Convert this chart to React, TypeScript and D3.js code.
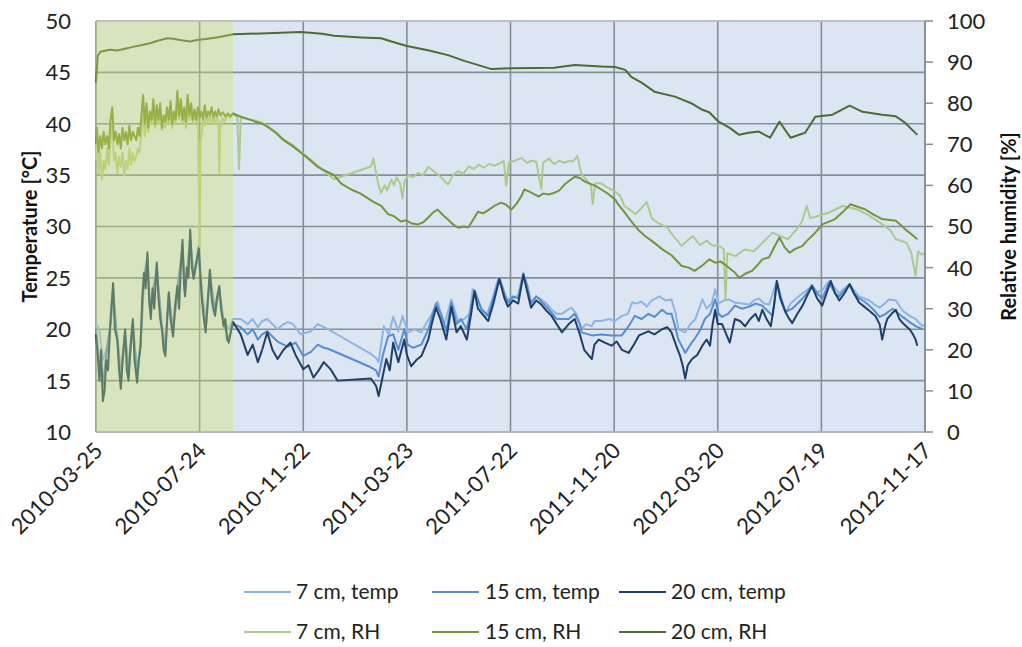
import React from "react";
import * as d3 from "d3";

// ---------- data (day offset from 2010-03-25, value) ----------
const START = Date.UTC(2010, 2, 25);
const TICK_STEP_DAYS = 121;
const TICK_COUNT = 9;
const SHADE_END_DAY = 160;

const tempTicks = [10, 15, 20, 25, 30, 35, 40, 45, 50];
const rhTicks = [0, 10, 20, 30, 40, 50, 60, 70, 80, 90, 100];

const temp20: [number, number][] = [
  [0,19.5],[2,17.5],[4,15],[6,18],[8,13],[10,14],[12,17],[14,16],[17,21],[20,24.5],[22,20],[25,19],[27,16],[29,14.2],[31,17],[34,20],[36,16],[38,15],[40,18],[43,21],[45,17],[48,14.8],[50,17],[52,18.3],[54,23],[56,25.5],[58,24],[60,27.5],[62,23],[64,21],[66,24],[68,22],[71,26.5],[73,23],[75,21],[77,20],[79,18],[81,17.4],[83,21],[85,23.6],[87,21],[90,19.3],[92,22],[95,24.2],[97,22],[99,26],[101,28.7],[103,24],[104,23.2],[106,26],[108,25],[110,29.7],[112,26],[114,24.9],[116,26],[118,27],[120,28],[122,25],[124,22.6],[126,21],[128,19.7],[130,22],[133,25.8],[135,23],[137,22],[139,21.3],[141,23],[144,24.2],[146,22],[149,20.3],[151,21],[153,19],[155,18.7],[158,20],[160,20.7],
  [169,19.5],[177,17.5],[183,18.5],[189,16.8],[194,18],[200,19.7],[206,18],[212,17.1],[219,18],[227,18.7],[233,17.5],[242,16.1],[248,16.5],[254,15.3],[260,16],[266,16.8],[274,16.1],[282,15],[321,15.2],[327,14.5],[330,13.5],[335,15.5],[339,17.1],[343,16],[347,18.7],[353,16.8],[360,19],[363,17.5],[368,16.4],[374,17],[380,17.4],[388,19],[392,20.5],[397,22.1],[402,21],[409,19],[415,22.2],[421,19.7],[426,20.3],[433,19],[438,21.5],[442,23.7],[446,22],[450,21.6],[458,20.8],[464,22.5],[471,24.9],[477,23],[481,22.2],[487,22.8],[493,22.5],[499,25.3],[504,23.5],[508,22.1],[514,22.8],[520,22.4],[526,21.8],[532,21.3],[538,20.5],[544,19.7],[552,20.5],[559,21],[565,19.5],[570,18],[579,17.1],[582,18.5],[587,19],[594,18.7],[602,18.4],[608,18.8],[614,18],[622,17.7],[628,18.5],[634,19.4],[645,19.8],[652,19.5],[661,20],[667,20.2],[672,19.7],[677,18.5],[682,17.4],[685,16.5],[688,15.2],[691,16.5],[696,17.1],[702,17.5],[708,18.4],[713,19],[717,18.4],[720,20.5],[723,21.9],[726,20.5],[731,20.5],[736,19.5],[740,18.7],[746,21],[752,20.8],[758,20.3],[764,21],[770,21.5],[774,20.8],[778,21.9],[783,21],[788,20.3],[792,22.5],[795,24.7],[799,23],[804,21.9],[808,21.2],[813,20.6],[819,21.5],[825,22.3],[830,23.2],[836,24.2],[842,23],[848,22.3],[853,23.5],[858,24.7],[863,23.5],[868,22.8],[874,23.5],[880,24.4],[885,23.5],[891,22.6],[897,22.2],[903,21.8],[910,21.3],[915,20.5],[918,19],[922,20.5],[924,21],[929,21.5],[934,21.9],[938,21],[942,20.6],[946,20.3],[950,20],[954,19.5],[957,19],[959,18.4]
];

const temp15: [number, number][] = [
  [0,20],[4,16.5],[8,14.5],[12,17.5],[17,20.5],[20,24],[24,19.5],[29,15],[34,19.5],[38,15.5],[43,20.5],[48,15.5],[52,18.5],[56,25],[60,27],[63,22],[71,26],[77,20],[81,18],[85,23.5],[90,19.5],[95,24],[101,28],[104,23.5],[110,29],[114,25],[120,27.5],[124,23],[128,20],[133,25.5],[139,21.5],[144,24],[149,20.5],[155,19],[160,20.5],
  [169,20.2],[177,19.5],[183,20],[189,19],[194,19.5],[200,19.8],[206,19.3],[212,18.8],[219,18.5],[224,18.3],[233,18.7],[242,17.4],[251,17.8],[259,18.5],[266,18.2],[271,18.1],[321,16.3],[327,16],[330,15.4],[335,17.5],[341,19.3],[347,19.5],[353,18],[360,20],[364,18.5],[370,18.2],[380,18.5],[388,20],[397,22.5],[403,21.5],[409,19.8],[415,22.6],[421,20.5],[426,21],[433,20],[442,23.8],[450,22],[458,21.3],[464,23],[471,25],[477,23.5],[481,22.6],[487,23.2],[493,23],[499,25.4],[504,24],[508,22.5],[514,23.2],[520,22.7],[526,22.2],[532,21.6],[538,21],[544,21],[552,21],[559,21.5],[565,20.5],[567,19.7],[579,19.4],[590,19.5],[602,19.4],[614,19.4],[622,20.3],[629,21.3],[637,21],[645,21.5],[652,21.2],[661,21.9],[667,21.5],[672,21.5],[677,20],[680,19],[688,17.7],[694,18.5],[700,19.2],[706,20],[711,21],[717,21.5],[723,22.9],[727,21.5],[731,21.2],[738,21.5],[746,22.3],[754,22],[763,22.2],[770,22.5],[778,22.3],[784,21.8],[790,21.3],[795,24.5],[800,23],[805,21.7],[813,22],[825,23],[830,23.5],[836,24.3],[842,23.5],[848,23],[856,24.5],[863,23.5],[868,23.2],[874,23.8],[880,24.3],[885,23.5],[891,23],[897,22.7],[903,22.3],[909,21.8],[915,21.2],[922,21.5],[930,22],[936,21.6],[942,21.2],[950,20.7],[957,20.3],[965,20]
];

const temp7: [number, number][] = [
  [0,20.5],[4,20],[8,17],[12,18],[17,20.5],[20,23],[24,20],[29,16],[34,19.5],[38,16.5],[43,20.5],[48,16],[52,18.5],[56,24.5],[60,26.5],[63,22],[71,25.5],[77,20.5],[81,18.5],[85,23],[90,20],[95,23.5],[101,27.5],[104,24],[110,28.5],[114,25.5],[120,27],[124,23.5],[128,21],[133,25],[139,22],[144,23.5],[149,21],[155,20],[160,21],
  [169,21],[177,20.5],[183,21],[189,20.2],[194,20.8],[200,21],[206,20.5],[212,20],[219,20.5],[224,20.7],[230,20.5],[239,19.5],[251,19.8],[259,20.5],[266,20.2],[271,20],[321,17.6],[327,17.2],[330,16.8],[336,20.3],[342,19.5],[347,21.2],[353,19.8],[358,21.3],[364,19.7],[372,20],[380,19.7],[385,20.5],[391,21.3],[399,22.7],[406,20.3],[415,22.9],[423,20.7],[430,21],[436,21.5],[440,23.9],[450,21.9],[456,21.3],[463,23],[470,25],[479,22.9],[487,23],[493,23.3],[499,25.5],[504,24.2],[508,22.6],[514,23.2],[520,22.9],[526,22.5],[532,21.9],[538,21.5],[544,21.5],[549,21.8],[555,22.1],[561,21.5],[567,20],[572,20.5],[579,20.3],[582,20.8],[590,20.8],[599,21],[606,20.8],[614,21.3],[621,21.5],[626,22.6],[631,22.5],[637,22.7],[643,22.2],[649,22.8],[658,23.2],[665,22.8],[672,22.9],[677,21.5],[680,20],[688,19.7],[694,20.5],[700,21],[708,22.9],[713,22],[719,22.5],[723,23.9],[727,22.5],[733,22.8],[739,22.9],[746,22.6],[754,22.5],[763,22.4],[768,22.8],[774,23],[780,22.5],[786,22.4],[795,24.7],[800,23],[805,21.6],[811,22.5],[816,22.9],[825,23.5],[830,23.8],[836,24.2],[842,23.6],[848,23.8],[856,24.7],[863,24],[868,23.5],[874,24],[880,24.4],[885,23.8],[891,23.2],[897,23],[903,22.8],[909,22.4],[915,22.1],[921,22.5],[926,22.9],[934,22.8],[938,22.3],[942,21.8],[950,21.3],[957,21],[965,20.3],[968,20.5]
];

const rh20: [number, number][] = [
  [0,85],[2,91.5],[5,92.5],[16,93],[25,92.8],[35,93.3],[43,93.7],[55,94.2],[63,94.6],[72,95.2],[83,95.8],[90,95.7],[100,95.3],[110,95],[118,95.4],[128,95.6],[141,96],[160,96.8],[200,97],[239,97.3],[264,96.9],[278,96.4],[310,96],[333,95.8],[345,95],[363,93.9],[389,92.8],[411,91.7],[430,90.3],[462,88.3],[485,88.5],[535,88.6],[559,89.3],[590,88.9],[606,88.8],[618,88.1],[625,86.4],[637,85],[652,82.8],[676,81.6],[695,80],[708,78.4],[716,77.8],[727,75.5],[740,74],[751,72.3],[762,72.8],[774,73.1],[787,71.6],[798,75.5],[811,71.6],[828,72.8],[840,76.7],[860,77.2],[880,79.4],[895,77.9],[918,77.2],[934,76.8],[945,75.2],[959,72.3]
];

const rh15: [number, number][] = [
  [0,70],[1,74],[3,68],[5,72],[7,69],[9,73],[11,70],[13,72],[15,69],[17,76],[19,79],[21,71],[23,73],[25,70],[27,72.5],[29,69],[31,74],[33,71],[35,73],[37,70],[39,74.5],[41,71],[43,73],[45,72],[47,71],[49,74],[51,72],[53,77],[55,82],[57,75],[59,80],[61,74],[63,78],[65,76],[67,81],[69,75],[71,79.5],[73,76],[75,80],[77,74],[79,77],[81,75.5],[83,79],[85,76],[87,80.5],[89,75],[91,78],[93,76],[95,83],[97,77],[99,81],[101,76],[103,79],[105,75.5],[107,82],[109,77],[111,80],[113,76],[115,78.5],[117,76],[119,79],[121,76.5],[123,78],[125,76],[127,79.5],[129,76.5],[131,78],[133,77],[135,79],[137,76.5],[139,78],[141,76.8],[143,78.5],[145,77],[148,77.8],[151,76.8],[154,77.5],[157,76.8],[160,77.5],
  [169,76.7],[180,76],[186,75.5],[194,75],[200,74.3],[210,72.8],[219,71],[230,69.5],[239,68],[248,66.5],[259,64.5],[268,63.5],[278,62.5],[286,60.5],[298,59],[309,58],[324,56],[333,55],[341,53],[348,52.5],[356,51.2],[362,51.5],[368,50.8],[376,50.5],[382,51],[388,52.2],[394,53.5],[399,54.1],[405,52.8],[411,51.7],[417,50.5],[423,49.7],[429,50],[435,49.8],[440,51.5],[446,53.6],[452,53.2],[458,54],[465,55],[473,55.8],[479,55.3],[485,54.1],[491,55.5],[497,57.5],[500,59],[506,58.5],[512,57.8],[517,57.3],[522,58],[529,57.8],[535,58.2],[541,58.8],[547,60.2],[553,61.2],[559,62.1],[565,61.8],[570,61],[576,60.5],[582,60],[590,59],[599,57.8],[606,56.6],[610,55.3],[617,53.5],[626,51],[634,49],[641,47.7],[649,46.5],[661,44.5],[672,43],[684,40.4],[692,40],[699,39.2],[708,40.5],[716,42],[723,41.2],[729,41.5],[734,40.8],[740,39.8],[746,38.8],[751,37.5],[758,38.5],[766,39.2],[772,40.5],[778,42],[786,42.5],[792,45],[798,47.3],[804,45],[810,43.6],[816,44.5],[825,45.3],[830,46.5],[836,47.7],[842,49],[848,50.5],[856,51.2],[863,51.8],[872,53.5],[881,55.4],[889,54.8],[898,54.2],[907,53],[918,51.8],[927,51.6],[934,51.4],[939,50.5],[945,49.3],[954,47.8],[959,46.9]
];

const rh7: [number, number][] = [
  [0,66],[1,72],[3,63],[5,68],[7,61.5],[9,66],[11,64],[13,69],[15,65],[17,71],[19,75],[21,66],[23,68],[25,63],[27,67],[29,64.5],[31,68],[33,62.5],[35,66],[37,64],[39,69],[41,65],[43,68],[45,66],[47,67],[49,69],[51,68],[53,73],[55,79],[57,72],[59,77],[61,73],[63,76.5],[65,75],[67,79],[69,74],[71,77.5],[73,75],[75,78],[77,73.5],[79,76],[81,74],[83,77.5],[85,75],[87,78],[89,74],[91,77],[93,75],[95,80],[97,76],[99,79],[101,75],[103,78],[105,74],[107,79],[109,76],[111,78],[113,75],[115,77.5],[117,75.5],[119,78],[120,62],[121,45],[122,70],[123,72],[125,76],[127,74.5],[129,77],[131,75.5],[133,77],[135,75],[137,76.5],[139,75],[141,77],[143,75.5],[144,63],[145,74],[147,76.5],[150,75.5],[153,77],[156,76.5],[160,77.5],
  [165,76.5],[167,64],[169,76.5],[180,76],[186,75.8],[194,75.2],[200,74.5],[210,73],[219,71.2],[230,69.8],[239,68.2],[248,66.8],[259,64.8],[268,63.2],[278,61.5],[321,64.6],[324,66.5],[327,63],[330,60],[333,58.2],[337,60],[340,58.8],[345,61.4],[348,60],[351,62],[355,60.5],[358,56.8],[360,61],[365,62.5],[370,62],[376,63],[382,62.5],[388,64.5],[394,63.5],[400,62.5],[405,61.5],[411,60.2],[417,62.5],[423,63.5],[429,62.8],[435,64.6],[441,64],[447,65],[453,64.3],[459,65.2],[465,64.8],[473,65.5],[476,66],[479,60],[482,65.5],[489,66],[497,66.7],[503,65.5],[509,66],[514,65.8],[520,59],[522,65.5],[529,66.5],[535,65.2],[541,66],[547,65.5],[553,66],[557,65.8],[562,67.2],[567,62.6],[572,61.5],[578,60],[580,55.5],[583,60.5],[590,60.5],[597,59.5],[606,58.5],[612,57.5],[617,55],[624,54],[630,53],[637,54.5],[643,56],[649,52],[655,51],[667,49.7],[675,47.5],[684,45.3],[690,46.5],[697,47.7],[705,45.5],[713,46.5],[720,45.3],[726,45.5],[733,44.5],[735,32],[737,43.5],[747,42.8],[757,44.4],[768,44],[778,46],[790,48.5],[795,48],[808,46.9],[818,49.3],[824,51],[830,55],[834,52],[842,52.5],[856,53.4],[872,55],[888,54.2],[900,53],[915,51],[928,49],[934,46.9],[946,46.1],[952,43.6],[957,38],[960,44],[964,43.2],[968,43.5]
];

const legendLabels = ["7 cm, temp", "15 cm, temp", "20 cm, temp", "7 cm, RH", "15 cm, RH", "20 cm, RH"];

// ---------- layout / style ----------
const W = 1022, H = 647;
const L = 96, R = 925, T = 21, B = 432;
const FONT = "Lato, 'Open Sans', sans-serif";
const GRID = "#868e98";
const COLORS = ["#8db4e2", "#558ed5", "#1f3f66", "#afc98c", "#77933c", "#4f6b34"];

const toDate = (d: number) => new Date(START + d * 86400000);

export default function App() {
  const endDate = toDate(TICK_STEP_DAYS * (TICK_COUNT - 1));
  const x = d3.scaleUtc().domain([toDate(0), endDate]).range([L, R]);
  const yT = d3.scaleLinear().domain([10, 50]).range([B, T]);
  const yRH = d3.scaleLinear().domain([0, 100]).range([B, T]);
  const dateTicks = d3.range(TICK_COUNT).map((i) => toDate(i * TICK_STEP_DAYS));
  const fmt = d3.utcFormat("%Y-%m-%d");

  const lineT = d3.line<[number, number]>().x((p) => x(toDate(p[0]))).y((p) => yT(p[1]));
  const lineRH = d3.line<[number, number]>().x((p) => x(toDate(p[0]))).y((p) => yRH(p[1]));

  const series = [
    { d: lineT(temp7), c: COLORS[0] },
    { d: lineT(temp15), c: COLORS[1] },
    { d: lineT(temp20), c: COLORS[2] },
    { d: lineRH(rh7), c: COLORS[3] },
    { d: lineRH(rh15), c: COLORS[4] },
    { d: lineRH(rh20), c: COLORS[5] },
  ];

  const shadeX = x(toDate(SHADE_END_DAY));

  const legendRows = [592, 632];
  const legendLineX = [244, 432, 619];
  const legendTextX = [296, 485, 671];

  return (
    <svg width={W} height={H} style={{ position: "absolute", left: 0, top: 0, background: "#fff" }} fontFamily={FONT}>
      <rect x={0} y={0} width={W} height={H} fill="#fff" />
      <rect x={L} y={T} width={R - L} height={B - T} fill="#dce6f2" />
      {tempTicks.map((t) => (
        <line key={"h" + t} x1={L} x2={R} y1={yT(t)} y2={yT(t)} stroke={GRID} strokeWidth={1.6} />
      ))}
      {dateTicks.map((d, i) => (
        <line key={"v" + i} x1={x(d)} x2={x(d)} y1={T} y2={B} stroke={GRID} strokeWidth={1.6} />
      ))}
      {series.map((s, i) => (
        <path key={"s" + i} d={s.d || ""} fill="none" stroke={s.c} strokeWidth={2} strokeLinejoin="round" />
      ))}
      <rect x={L} y={T} width={shadeX - L} height={B - T} fill="rgb(206,224,99)" fillOpacity={0.37} />
      <line x1={L} x2={R} y1={T} y2={T} stroke="#c4c8cc" strokeWidth={1.5} />
      <line x1={L} x2={R} y1={B} y2={B} stroke="#b8bcc0" strokeWidth={1.5} />
      <line x1={R} x2={R} y1={T} y2={B} stroke={GRID} strokeWidth={1.6} />
      {rhTicks.map((t) => (
        <line key={"rt" + t} x1={R} x2={R + 8} y1={yRH(t)} y2={yRH(t)} stroke={GRID} strokeWidth={1.5} />
      ))}
      {tempTicks.map((t) => (
        <text key={"lt" + t} x={71} y={yT(t)} dy="0.36em" textAnchor="end" fontSize={22} fill="#222">
          {t}
        </text>
      ))}
      {rhTicks.map((t) => (
        <text key={"rl" + t} x={947} y={yRH(t)} dy="0.36em" textAnchor="start" fontSize={22} fill="#222">
          {t}
        </text>
      ))}
      {dateTicks.map((d, i) => (
        <text key={"xl" + i} transform={`translate(${x(d) + 8},${B + 20}) rotate(-45)`} textAnchor="end" fontSize={22} fill="#222">
          {fmt(d)}
        </text>
      ))}
      <text transform={`translate(37,${(T + B) / 2}) rotate(-90)`} textAnchor="middle" fontSize={20} fontWeight="bold" fill="#111">
        Temperature [°C]
      </text>
      <text transform={`translate(1016,${(T + B) / 2}) rotate(-90)`} textAnchor="middle" fontSize={20} fontWeight="bold" fill="#111">
        Relative humidity [%]
      </text>
      {legendLabels.map((lab, i) => {
        const row = Math.floor(i / 3);
        const col = i % 3;
        const y = legendRows[row];
        return (
          <g key={"lg" + i}>
            <line x1={legendLineX[col]} x2={legendLineX[col] + 47} y1={y} y2={y} stroke={COLORS[i]} strokeWidth={2} />
            <text x={legendTextX[col]} y={y} dy="0.35em" fontSize={21} fill="#222">
              {lab}
            </text>
          </g>
        );
      })}
    </svg>
  );
}
